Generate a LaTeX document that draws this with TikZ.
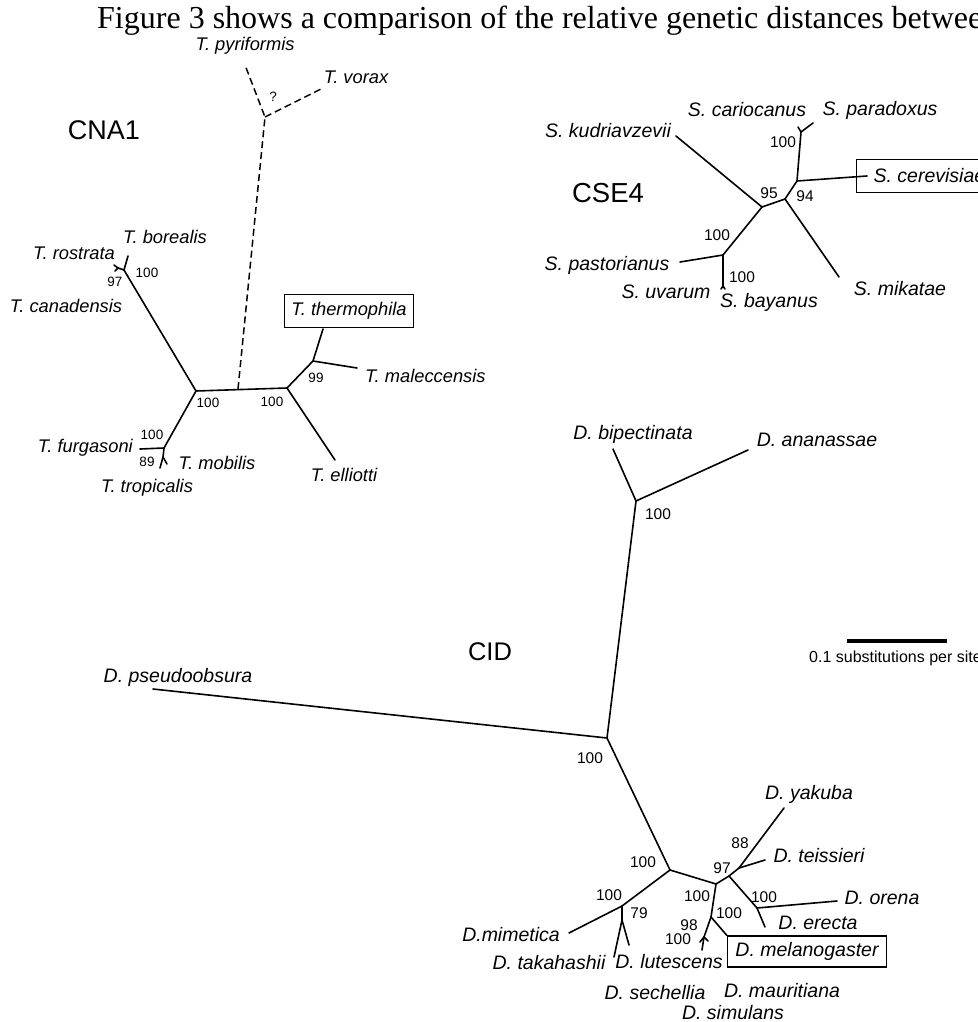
\documentclass[tikz,border=0pt]{standalone}
\usepackage{fontspec}
\setmainfont{Liberation Serif}
\setsansfont{Liberation Sans}

\tikzset{
  branch/.style={line width=1.6pt, line cap=round},
  dashbranch/.style={line width=1.5pt, dash pattern=on 7pt off 4pt},
  taxon/.style={font=\sffamily\itshape\fontsize{#1}{#1}\selectfont, inner sep=0pt},
  taxon/.default=19.5,
  boot/.style={font=\sffamily\fontsize{#1}{#1}\selectfont, inner sep=0pt},
  boot/.default=15.5,
  treename/.style={font=\sffamily\fontsize{#1}{#1}\selectfont, inner sep=0pt},
  treename/.default=27,
  hilite/.style={draw, line width=1.3pt, inner xsep=#1, minimum height=33pt}
}

\begin{document}
\begin{tikzpicture}[x=1pt,y=-1pt]
  \useasboundingbox (0,0) rectangle (977,1022);

  \node [anchor=base west, font=\fontsize{32}{34}\selectfont, inner sep=0pt] (caption) at (97,29)
    {Figure 3 shows a comparison of the relative genetic distances between};

  % CNA1
  \begin{scope}
    \node [treename] (cna) at (104,130) {CNA1};
    \coordinate (a) at (196,391); \coordinate (dj) at (238,389);
    \coordinate (b) at (287,388); \coordinate (c) at (313,361);
    \coordinate (pq) at (265,117); \coordinate (d) at (124,270);
    \coordinate (e) at (118,268); \coordinate (f) at (164,448);
    \coordinate (g) at (163,457);
    \coordinate (tpyr) at (245,65); \coordinate (tvor) at (323,88);
    \coordinate (tth) at (323,329); \coordinate (tmal) at (357,368);
    \coordinate (tell) at (335,460); \coordinate (tbor) at (128,256);
    \coordinate (tros) at (114,265); \coordinate (tcan) at (115,271);
    \coordinate (tfur) at (140,449); \coordinate (tmob) at (167,464);
    \coordinate (ttro) at (160,468);

    \draw [branch] (d) -- (a) -- (b) -- (c) -- (tth);
    \draw [branch] (c) -- (tmal);
    \draw [branch] (b) -- (tell);
    \draw [branch] (d) -- (tbor);
    \draw [branch] (d) -- (e) -- (tros);
    \draw [branch] (e) -- (tcan);
    \draw [branch] (a) -- (f) -- (tfur);
    \draw [branch] (f) -- (g) -- (tmob);
    \draw [branch] (g) -- (ttro);
    \draw [dashbranch] (dj) -- (pq) -- (tpyr);
    \draw [dashbranch] (pq) -- (tvor);

    \node [taxon=18.3] (pyr) at (245,46) {T. pyriformis};
    \node [taxon=18.3] (vor) at (356,77) {T. vorax};
    \node [boot=13.5] (qm) at (273,97) {?};
    \node [taxon=18.3] (bor) at (165,237) {T. borealis};
    \node [taxon=18.3] (ros) at (74,253) {T. rostrata};
    \node [taxon=18.3] (can) at (66,306) {T. canadensis};
    \node [taxon=18.3, hilite=7pt] (thermo) at (349,311) {T. thermophila};
    \node [taxon=18.3, anchor=west] (mal) at (365,376) {T. maleccensis};
    \node [taxon=18.3] (ell) at (344,475) {T. elliotti};
    \node [taxon=18.3, anchor=east] (fur) at (133,448) {T. furgasoni};
    \node [taxon=18.3] (mob) at (217,463) {T. mobilis};
    \node [taxon=18.3] (tro) at (147,488) {T. tropicalis};

    \foreach \bx/\by/\bv [count=\k] in {147/273/100, 115/282/97, 316/378/99,
        208/403/100, 272/402/100, 152/435/100, 147/462/89}
      \node [boot=13.5] (cb\k) at (\bx,\by) {\bv};
  \end{scope}

  % CSE4
  \begin{scope}
    \node [treename=27.5] (cse) at (608,193) {CSE4};
    \coordinate (h) at (762,207); \coordinate (i) at (785,199);
    \coordinate (j) at (797,181); \coordinate (k) at (801,132);
    \coordinate (l) at (723,255); \coordinate (m) at (723,286);
    \coordinate (scer) at (867,176); \coordinate (spar) at (813,123);
    \coordinate (scar) at (798,127); \coordinate (skud) at (676,136);
    \coordinate (smik) at (839,277); \coordinate (spas) at (680,262);
    \coordinate (suva) at (721,289); \coordinate (sbay) at (725,289);

    \draw [branch] (skud) -- (h) -- (i) -- (j) -- (k) -- (spar);
    \draw [branch] (k) -- (scar);
    \draw [branch] (j) -- (scer);
    \draw [branch] (i) -- (smik);
    \draw [branch] (h) -- (l) -- (spas);
    \draw [branch] (l) -- (m) -- (suva);
    \draw [branch] (m) -- (sbay);

    \node [taxon] (car) at (747,110) {S. cariocanus};
    \node [taxon] (par) at (880,110) {S. paradoxus};
    \node [taxon] (kud) at (608,131) {S. kudriavzevii};
    \node [taxon, hilite=17pt, anchor=west] (cer) at (856,176) {S. cerevisiae};
    \node [taxon] (mik) at (900,289) {S. mikatae};
    \node [taxon] (pas) at (607,265) {S. pastorianus};
    \node [taxon] (uva) at (666,292) {S. uvarum};
    \node [taxon] (bay) at (769,302) {S. bayanus};

    \foreach \bx/\by/\bv [count=\k] in {769/193/95, 805/196/94, 783/142/100,
        717/235/100, 742/277/100}
      \node [boot] (sb\k) at (\bx,\by) {\bv};
  \end{scope}

  % CID
  \begin{scope}
    \node [treename=25.5] (cid) at (490,652) {CID};
    \coordinate (n) at (636,501); \coordinate (o) at (607,738);
    \coordinate (p) at (670,870); \coordinate (q) at (622,906);
    \coordinate (r) at (622,920); \coordinate (s) at (716,884);
    \coordinate (t) at (729,876); \coordinate (u) at (739,868);
    \coordinate (v) at (757,908); \coordinate (w) at (711,917);
    \coordinate (x) at (704,937);
    \coordinate (dbip) at (613,449); \coordinate (dana) at (748,450);
    \coordinate (dpse) at (153,689); \coordinate (dmim) at (569,933);
    \coordinate (dtak) at (614,957); \coordinate (dlut) at (629,945);
    \coordinate (dyak) at (784,808); \coordinate (dtei) at (765,860);
    \coordinate (dore) at (837,901); \coordinate (dere) at (765,927);
    \coordinate (dsec) at (700,942); \coordinate (dmau) at (708,941);
    \coordinate (dsim) at (702,950);

    \draw [branch] (dbip) -- (n) -- (dana);
    \draw [branch] (n) -- (o) -- (dpse);
    \draw [branch] (o) -- (p) -- (q) -- (dmim);
    \draw [branch] (q) -- (r) -- (dtak);
    \draw [branch] (r) -- (dlut);
    \draw [branch] (p) -- (s) -- (t) -- (u) -- (dyak);
    \draw [branch] (u) -- (dtei);
    \draw [branch] (t) -- (v) -- (dore);
    \draw [branch] (v) -- (dere);
    \draw [branch] (s) -- (w) -- (x) -- (dsim);
    \draw [branch] (x) -- (dsec);
    \draw [branch] (x) -- (dmau);

    \node [taxon] (bip) at (633,434) {D. bipectinata};
    \node [taxon] (ana) at (817,440) {D. ananassae};
    \node [taxon] (pse) at (178,677) {D. pseudoobsura};
    \node [taxon] (mim) at (511,935) {D.mimetica};
    \node [taxon] (tak) at (549,963) {D. takahashii};
    \node [taxon] (lut) at (669,962) {D. lutescens};
    \node [taxon] (yak) at (809,794) {D. yakuba};
    \node [taxon] (tei) at (819,856) {D. teissieri};
    \node [taxon] (ore) at (882,898) {D. orena};
    \node [taxon] (ere) at (818,923) {D. erecta};
    \node [taxon, hilite=8pt, minimum height=31pt] (melano) at (807,951.5) {D. melanogaster};
    \node [taxon] (sec) at (655,993) {D. sechellia};
    \node [taxon] (mau) at (782,991) {D. mauritiana};
    \node [taxon] (sim) at (733,1013) {D. simulans};
    \draw [branch] (w) -- (melano.north west);

    \foreach \bx/\by/\bv [count=\k] in {658/514/100, 590/758/100, 643/862/100,
        609/895/100, 639/913/79, 697/896/100, 722/868/97, 740/843/88,
        764/897/100, 689/925/98, 729/913/100, 678/939/100}
      \node [boot] (db\k) at (\bx,\by) {\bv};
  \end{scope}

  % scale bar
  \coordinate (sbl) at (847,641); \coordinate (sbr) at (947,641);
  \draw [line width=4pt] (sbl) -- (sbr);
  \node [boot=16, anchor=west] (sbtext) at (809,658) {0.1 substitutions per site};
\end{tikzpicture}
\end{document}
